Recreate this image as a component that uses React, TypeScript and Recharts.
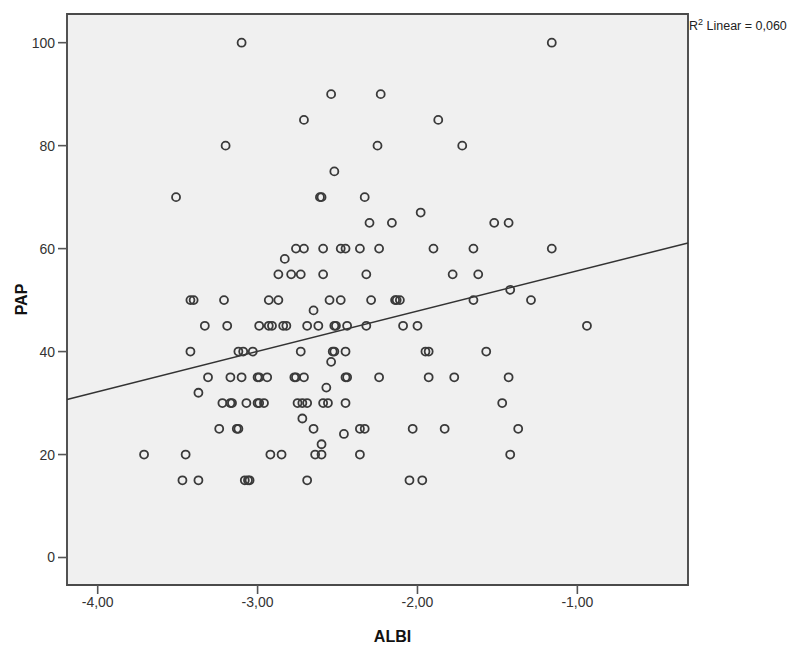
import { ScatterChart, Scatter, XAxis, YAxis, CartesianGrid, ReferenceArea, ReferenceLine } from 'recharts';

// ALBI score (x) and PAP (y) per patient, grouped by PAP level
const albi = [
  -3.10, -1.16,
  -2.54, -2.23,
  -2.71, -1.87,
  -3.20, -2.25, -1.72,
  -2.52,
  -3.51, -2.61, -2.60, -2.33,
  -1.98,
  -2.30, -2.16, -1.52, -1.43,
  -2.76, -2.71, -2.59, -2.48, -2.45, -2.36, -2.24, -1.90, -1.65, -1.16,
  -2.83,
  -2.87, -2.79, -2.73, -2.59, -2.32, -1.78, -1.62,
  -1.42,
  -3.42, -3.40, -3.21, -2.93, -2.87, -2.55, -2.48, -2.29, -2.14, -2.13, -2.11, -1.65, -1.29,
  -2.65,
  -3.33, -3.19, -2.99, -2.93, -2.91, -2.84, -2.82, -2.69, -2.62, -2.52, -2.51, -2.44, -2.32, -2.09, -2.00, -0.94,
  -3.42, -3.12, -3.09, -3.03, -2.73, -2.53, -2.52, -2.45, -1.95, -1.93, -1.57,
  -2.54,
  -3.31, -3.17, -3.10, -3.00, -2.99, -2.94, -2.77, -2.76, -2.71, -2.45, -2.44, -2.24, -1.93, -1.77, -1.43,
  -2.57,
  -3.37,
  -3.22, -3.17, -3.16, -3.07, -3.00, -2.99, -2.96, -2.75, -2.72, -2.69, -2.59, -2.56, -2.45, -1.47,
  -2.72,
  -3.24, -3.13, -3.12, -2.65, -2.36, -2.33, -2.03, -1.83, -1.37,
  -2.46,
  -2.60,
  -3.71, -3.45, -2.92, -2.85, -2.64, -2.60, -2.36, -1.42,
  -3.47, -3.37, -3.08, -3.06, -3.05, -2.69, -2.05, -1.97,
];

const pap = [
  100, 100,
  90, 90,
  85, 85,
  80, 80, 80,
  75,
  70, 70, 70, 70,
  67,
  65, 65, 65, 65,
  60, 60, 60, 60, 60, 60, 60, 60, 60, 60,
  58,
  55, 55, 55, 55, 55, 55, 55,
  52,
  50, 50, 50, 50, 50, 50, 50, 50, 50, 50, 50, 50, 50,
  48,
  45, 45, 45, 45, 45, 45, 45, 45, 45, 45, 45, 45, 45, 45, 45, 45,
  40, 40, 40, 40, 40, 40, 40, 40, 40, 40, 40,
  38,
  35, 35, 35, 35, 35, 35, 35, 35, 35, 35, 35, 35, 35, 35, 35,
  33,
  32,
  30, 30, 30, 30, 30, 30, 30, 30, 30, 30, 30, 30, 30, 30,
  27,
  25, 25, 25, 25, 25, 25, 25, 25, 25,
  24,
  22,
  20, 20, 20, 20, 20, 20, 20, 20,
  15, 15, 15, 15, 15, 15, 15, 15,
];

// fit line ends read at the frame edges
const fitLine = [
  { x: -4.192, y: 30.7 },
  { x: -0.308, y: 61.1 },
];

const xTicks = [-4, -3, -2, -1];
const yTicks = [0, 20, 40, 60, 80, 100];

const X_MIN = -4.192;
const X_MAX = -0.308;
const Y_MIN = -5.34;
const Y_MAX = 105.57;

const points = albi.map((a, i) => ({ albi: a, pap: pap[i] }));

const tickStyle = { fontFamily: 'Arial, "Liberation Sans", sans-serif', fontSize: 14, fill: '#333' };
const titleStyle = { fontFamily: 'Arial, "Liberation Sans", sans-serif', fontSize: 16, fontWeight: 700, fill: '#111' };

const Ring = (props: any) => (
  <circle cx={props.cx} cy={props.cy} r={4} fill="none" stroke="#3a3a3a" strokeWidth={1.8} />
);

export default function App() {
  return (
    <div style={{ position: 'absolute', left: 0, top: 0, width: 799, height: 648, background: '#fff' }}>
      <ScatterChart width={799} height={648} margin={{ top: 14, right: 111, bottom: 0, left: 0 }}>
        <CartesianGrid horizontal={false} vertical={false} fill="#f0f0f0" />
        <XAxis
          type="number"
          dataKey="albi"
          domain={[X_MIN, X_MAX]}
          allowDataOverflow
          ticks={xTicks}
          tickFormatter={(v: number) => v.toFixed(2).replace('.', ',')}
          height={63}
          axisLine={false}
          tickLine={{ stroke: '#555', strokeWidth: 1.6 }}
          tickSize={9}
          tickMargin={3}
          tick={tickStyle}
          label={{
            value: 'ALBI',
            content: ({ viewBox }: any) => (
              <text x={viewBox.x + viewBox.width / 2 + 15} y={viewBox.y + 57} textAnchor="middle" style={titleStyle}>
                ALBI
              </text>
            ),
          }}
        />
        <YAxis
          type="number"
          dataKey="pap"
          domain={[Y_MIN, Y_MAX]}
          allowDataOverflow
          ticks={yTicks}
          width={67}
          axisLine={false}
          tickLine={{ stroke: '#555', strokeWidth: 1.6 }}
          tickSize={9}
          tickMargin={3}
          tick={tickStyle}
          label={{
            value: 'PAP',
            content: ({ viewBox }: any) => {
              const cx = 21;
              const cy = viewBox.y + viewBox.height / 2;
              return (
                <text x={cx} y={cy} textAnchor="middle" dominantBaseline="central" transform={`rotate(-90, ${cx}, ${cy})`} style={titleStyle}>
                  PAP
                </text>
              );
            },
          }}
        />
        <ReferenceArea x1={X_MIN} x2={X_MAX} y1={Y_MIN} y2={Y_MAX} fill="none" stroke="#4a4a4a" strokeWidth={1.9} />
        <ReferenceLine segment={fitLine} stroke="#333" strokeWidth={1.5} />
        <Scatter data={points} shape={Ring} isAnimationActive={false} />
      </ScatterChart>
      <div
        style={{
          position: 'absolute',
          left: 689,
          top: 17,
          fontFamily: 'Arial, "Liberation Sans", sans-serif',
          fontSize: 12.5,
          color: '#222',
          whiteSpace: 'nowrap',
        }}
      >
        R<sup style={{ fontSize: 9 }}>2</sup> Linear = 0,060
      </div>
    </div>
  );
}
